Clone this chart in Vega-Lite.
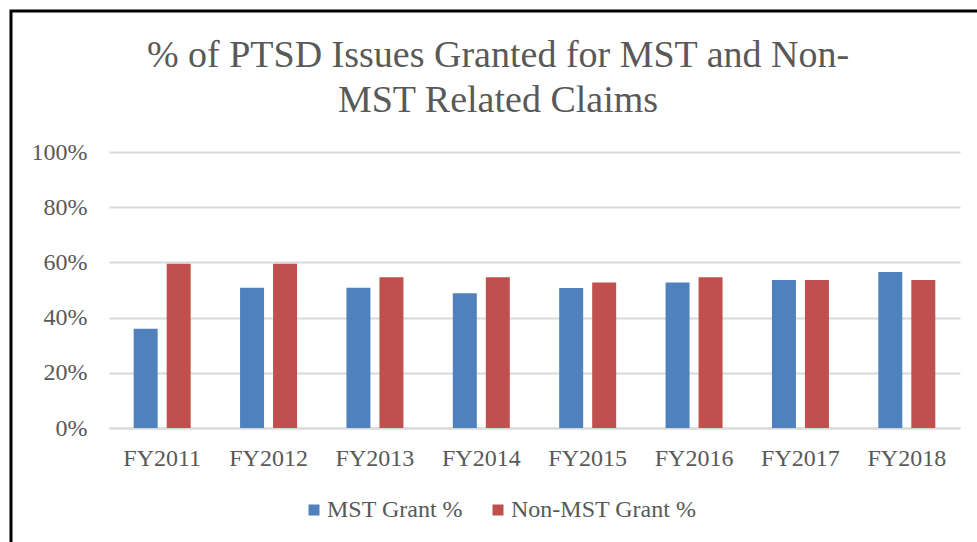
{
  "$schema": "https://vega.github.io/schema/vega-lite/v6.json",
  "width": 966,
  "height": 531,
  "autosize": {"type": "none"},
  "padding": {"left": 11, "top": 11, "right": 0, "bottom": 0},
  "background": "white",
  "config": {
    "view": {"stroke": "#000000", "strokeWidth": 3, "strokeDash": [966, 1497, 531]},
    "font": "Liberation Serif"
  },
  "title": {
    "text": ["% of PTSD Issues Granted for MST and Non-", "MST Related Claims"],
    "anchor": "middle",
    "frame": "group",
    "orient": "top",
    "baseline": "top",
    "offset": -109,
    "dx": 4,
    "fontSize": 38,
    "lineHeight": 45,
    "font": "Liberation Serif",
    "fontWeight": "normal",
    "color": "#595959"
  },
  "data": {
    "values": [
      {"year": "FY2011", "series": "MST Grant %", "value": 0.36},
      {"year": "FY2011", "series": "Non-MST Grant %", "value": 0.595},
      {"year": "FY2012", "series": "MST Grant %", "value": 0.508},
      {"year": "FY2012", "series": "Non-MST Grant %", "value": 0.595},
      {"year": "FY2013", "series": "MST Grant %", "value": 0.508},
      {"year": "FY2013", "series": "Non-MST Grant %", "value": 0.546},
      {"year": "FY2014", "series": "MST Grant %", "value": 0.488},
      {"year": "FY2014", "series": "Non-MST Grant %", "value": 0.546},
      {"year": "FY2015", "series": "MST Grant %", "value": 0.507},
      {"year": "FY2015", "series": "Non-MST Grant %", "value": 0.527},
      {"year": "FY2016", "series": "MST Grant %", "value": 0.527},
      {"year": "FY2016", "series": "Non-MST Grant %", "value": 0.546},
      {"year": "FY2017", "series": "MST Grant %", "value": 0.536},
      {"year": "FY2017", "series": "Non-MST Grant %", "value": 0.536},
      {"year": "FY2018", "series": "MST Grant %", "value": 0.565},
      {"year": "FY2018", "series": "Non-MST Grant %", "value": 0.536}
    ]
  },
  "mark": {"type": "bar"},
  "encoding": {
    "x": {
      "field": "year",
      "type": "nominal",
      "scale": {"range": [98, 949], "paddingInner": 0, "paddingOuter": 0},
      "axis": {
        "orient": "bottom",
        "offset": -114,
        "title": null,
        "labelAngle": 0,
        "ticks": false,
        "tickSize": 0,
        "labelPadding": 18,
        "labelFontSize": 24,
        "labelFont": "Liberation Serif",
        "labelColor": "#595959",
        "domainColor": "#d9d9d9",
        "domainWidth": 2,
        "grid": false
      }
    },
    "xOffset": {
      "field": "series",
      "type": "nominal",
      "sort": ["MST Grant %", "Non-MST Grant %"],
      "scale": {"paddingInner": 0.273, "paddingOuter": 0.748}
    },
    "y": {
      "field": "value",
      "type": "quantitative",
      "scale": {"domain": [0, 1], "range": [417, 141], "nice": false, "zero": true},
      "axis": {
        "orient": "left",
        "offset": -98,
        "values": [0, 0.2, 0.4, 0.6, 0.8, 1],
        "format": ".0%",
        "title": null,
        "domain": false,
        "ticks": false,
        "tickSize": 0,
        "labelPadding": 22,
        "labelFontSize": 24,
        "labelFont": "Liberation Serif",
        "labelColor": "#595959",
        "grid": true,
        "gridColor": "#d9d9d9",
        "gridWidth": 2
      }
    },
    "color": {
      "field": "series",
      "type": "nominal",
      "scale": {"domain": ["MST Grant %", "Non-MST Grant %"], "range": ["#4F81BD", "#C0504D"]},
      "legend": {
        "title": null,
        "orient": "none",
        "legendX": 291,
        "legendY": 487,
        "direction": "horizontal",
        "padding": 0,
        "symbolType": "square",
        "symbolSize": 121,
        "symbolStrokeWidth": 0,
        "labelOffset": 1,
        "columnPadding": 23,
        "labelLimit": 400,
        "labelFontSize": 24,
        "labelFont": "Liberation Serif",
        "labelColor": "#595959"
      }
    }
  }
}
